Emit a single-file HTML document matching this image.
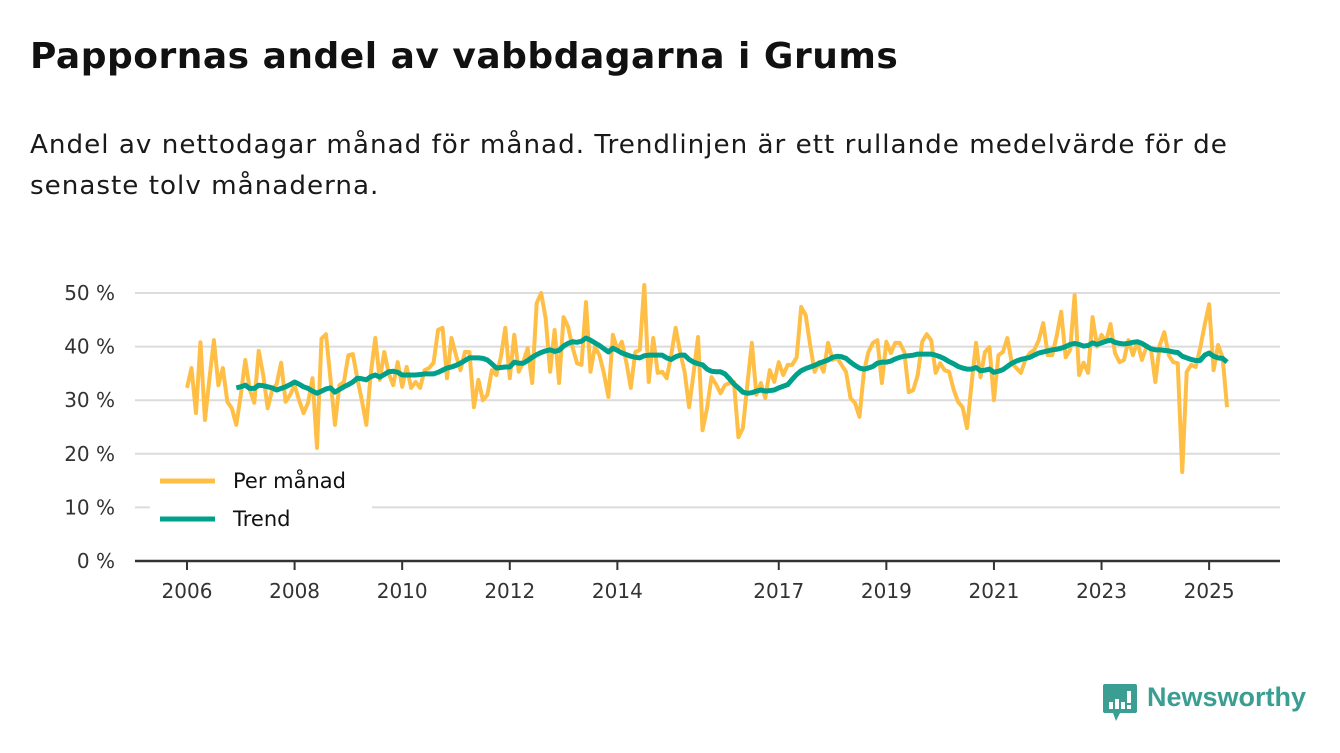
<!DOCTYPE html>
<html><head><meta charset="utf-8">
<style>
html,body{margin:0;padding:0;background:#fff;width:1340px;height:753px;overflow:hidden;font-family:"DejaVu Sans","Liberation Sans",sans-serif;color:#111;}
#title{position:absolute;left:30px;top:36px;font-size:36px;font-weight:bold;letter-spacing:0.5px;}
#subtitle{position:absolute;left:30px;top:125px;font-size:26.2px;line-height:41px;width:1262px;letter-spacing:1px;color:#1a1a1a;}
svg{position:absolute;left:0;top:0;}
#logo{position:absolute;left:1102px;top:683px;}
#logo-text{position:absolute;left:1147px;top:682px;font-size:27px;font-weight:bold;color:#3a9e92;font-family:"Liberation Sans",sans-serif;}
</style></head><body>
<div id="title">Pappornas andel av vabbdagarna i Grums</div>
<div id="subtitle">Andel av nettodagar månad för månad. Trendlinjen är ett rullande medelvärde för de senaste tolv månaderna.</div>
<svg id="chart" width="1340" height="753"></svg>
<svg id="logo" width="36" height="40" viewBox="0 0 36 40">
<path d="M3 1h30a2 2 0 0 1 2 2v25a2 2 0 0 1-2 2H18l-4 8-3-8H3a2 2 0 0 1-2-2V3a2 2 0 0 1 2-2z" fill="#3a9e92"/>
<rect x="7" y="19" width="4" height="7" fill="#fff"/><rect x="13" y="16" width="4" height="10" fill="#fff"/><rect x="19" y="19" width="4" height="7" fill="#fff"/><rect x="25" y="8" width="4" height="12" fill="#fff"/><rect x="25" y="22" width="4" height="4" fill="#fff"/>
</svg>
<div id="logo-text">Newsworthy</div>
<script>
const yTicks=[0,10,20,30,40,50];
const yTickLabels=["0 %","10 %","20 %","30 %","40 %","50 %"];
const xTickYears=[2006,2008,2010,2012,2014,2017,2019,2021,2023,2025];
const startYear=2006;
const monthly=[32.3,36,27.6,40.8,26.3,34,41.2,32.8,36,29.7,28.5,25.4,31,37.5,32,29.5,39.2,34.7,28.5,31.9,33,37,29.7,31,32.8,30,27.6,29.5,34.1,21.1,41.5,42.3,34,25.4,32.8,33.4,38.4,38.6,34,30,25.4,35,41.6,33.8,39,35,32.8,37.1,32.5,36.2,32.3,33.4,32.3,35.6,36,37,43.1,43.5,34.1,
41.6,38.4,35.6,39,39,28.7,33.8,30,31,35.6,34.7,38,43.5,34.1,42.2,35.3,37.1,39.7,33.2,48.1,50,45.3,35.3,43.1,33.2,45.5,43.7,39.9,36.9,36.6,48.3,35.3,40,38.4,35,30.6,42.2,39.4,40.9,37.1,32.3,39,39.4,51.5,33.4,41.6,35.1,35.3,34.1,38.4,43.5,39,35.3,28.7,35,41.8,24.4,28.5,34.3,33,31.3,
32.8,33.2,33.4,23.1,24.8,33,40.7,31,33.2,30.4,35.6,33.4,37.1,34.7,36.6,36.6,38,47.4,45.9,40.3,35.3,37.1,35.3,40.7,37.5,37.9,36.6,35.3,30.4,29.5,26.9,35.3,39,40.7,41.2,33.2,40.9,38.8,40.7,40.7,39,31.5,31.9,34.7,40.9,42.3,41.2,35.1,36.9,35.6,35.3,32,29.7,28.7,24.8,33,40.7,34.3,
39,39.9,30,38.4,39,41.6,36.9,36,35.1,37.5,38.8,39.4,41.2,44.4,38.4,38.4,42,46.5,38,39.4,49.6,34.7,37,35.1,45.5,40,42.2,40.9,44.2,38.8,37.1,37.5,41.2,38.4,40.9,37.5,39.9,39.7,33.4,40.3,42.7,38.4,37.1,36.9,16.6,35.3,36.6,36.2,39.7,44,47.9,35.6,40.3,38,28.7];
const trendStart=11;
const trend=[32.3,32.5,32.8,32.2,32.2,32.8,32.7,32.5,32.3,31.9,32.2,32.5,32.9,33.4,33,32.5,32.2,31.7,31.3,31.7,32.1,32.3,31.5,32,32.5,32.9,33.4,34.1,34,33.8,34.4,34.7,34.3,34.8,35.3,35.4,35.2,34.7,34.7,34.7,34.7,34.8,34.9,34.9,34.9,35.2,35.6,36,
36.2,36.5,36.9,37.4,37.9,37.9,37.9,37.8,37.5,36.8,36,36.1,36.2,36.2,37.1,36.9,36.9,37.4,38,38.5,38.9,39.2,39.4,39.1,39.3,40.1,40.6,40.9,40.8,41,41.6,41.2,40.7,40.2,39.6,39,39.7,39.3,38.8,38.5,38.2,38,37.9,38.3,38.4,38.4,38.4,38.4,37.9,37.6,38.1,38.4,38.4,37.6,37.1,36.8,36.6,35.8,35.4,35.3,35.3,
34.9,34,33,32.3,31.5,31.3,31.4,31.7,31.9,31.7,31.8,31.9,32.3,32.6,32.9,33.9,34.8,35.5,35.9,36.2,36.5,36.9,37.2,37.5,38,38.2,38.1,37.8,37.1,36.5,36,35.8,36,36.3,36.9,37.1,37.1,37.3,37.7,38,38.2,38.3,38.4,38.6,38.6,38.6,38.6,38.4,38.1,37.7,37.2,36.8,36.3,36,35.8,35.8,36.1,35.5,
35.6,35.8,35.2,35.4,35.7,36.3,36.9,37.3,37.6,37.8,38,38.4,38.8,39,39.2,39.4,39.5,39.7,40,40.4,40.6,40.4,40.1,40.2,40.7,40.4,40.7,41,41.2,40.8,40.6,40.5,40.6,40.8,40.9,40.6,40.1,39.6,39.4,39.4,39.3,39.2,39,38.9,38.2,37.9,37.6,37.4,37.4,38.4,38.8,38.2,37.9,37.8,37.1];

const NS="http://www.w3.org/2000/svg";
const svg=document.getElementById('chart');
const x0=187, monthW=4.483, y0=561, pxPerPct=5.36;
const FONT='DejaVu Sans, Liberation Sans, sans-serif';
function xScale(monthIndex){return x0+monthIndex*monthW;}
function xYear(yr){return x0+(yr-startYear)*12*monthW;}
function yScale(v){return y0-v*pxPerPct;}
function mk(tag,attrs){const e=document.createElementNS(NS,tag);for(const k in attrs)e.setAttribute(k,attrs[k]);svg.appendChild(e);return e;}

yTicks.forEach((t,i)=>{
  if(t>0){const g=mk('line',{x1:135,x2:1280,y1:yScale(t),y2:yScale(t),stroke:'#dcdcdc','stroke-width':2});
  
  }
  const tx=mk('text',{x:115,y:yScale(t)+7,'text-anchor':'end','font-size':20,fill:'#333','font-family':FONT});
  tx.textContent=yTickLabels[i];
  
  
});
const ax=mk('line',{x1:135,x2:1280,y1:y0,y2:y0,stroke:'#333','stroke-width':2.5});


xTickYears.forEach(yr=>{
  const xx=xYear(yr);
  const tk=mk('line',{x1:xx,x2:xx,y1:y0,y2:y0+9,stroke:'#333','stroke-width':2});
  
  
  const tx=mk('text',{x:xx,y:598,'text-anchor':'middle','font-size':20,fill:'#333','font-family':FONT});
  tx.textContent=yr;
  
  
});
const mp=mk('polyline',{points:monthly.map((v,i)=>xScale(i)+','+yScale(v)).join(' '),fill:'none',stroke:'#ffbf47','stroke-width':4,'stroke-linejoin':'round'});


const tp=mk('polyline',{points:trend.map((v,i)=>xScale(i+trendStart)+','+yScale(v)).join(' '),fill:'none',stroke:'#00a08a','stroke-width':5,'stroke-linejoin':'round'});


const lb=mk('rect',{x:150,y:462,width:222,height:76,fill:'#fff'});


const l1=mk('line',{x1:160,x2:215,y1:481,y2:481,stroke:'#ffbf47','stroke-width':5});


const t1=mk('text',{x:233,y:488,'font-size':21,fill:'#111','font-family':FONT});
t1.textContent='Per månad';


const l2=mk('line',{x1:160,x2:215,y1:519,y2:519,stroke:'#00a08a','stroke-width':5});


const t2=mk('text',{x:233,y:526,'font-size':21,fill:'#111','font-family':FONT});
t2.textContent='Trend';


</script>
</body></html>
